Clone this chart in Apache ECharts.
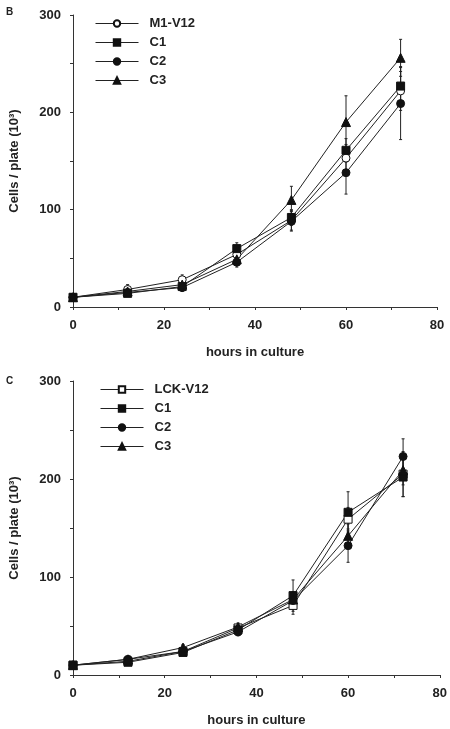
<!DOCTYPE html>
<html><head><meta charset="utf-8">
<script src="https://cdn.jsdelivr.net/npm/echarts@6/dist/echarts.min.js"></script>
<style>html,body{margin:0;padding:0;background:#fff}#c{width:450px;height:729px}</style>
</head><body><div id="c"></div>
<script>
const hours = [0, 12, 24, 36, 48, 60, 72];
const xTicks = [0, 20, 40, 60, 80];
const yTicks = [0, 100, 200, 300];

// Panel B
const namesB = ['M1-V12', 'C1', 'C2', 'C3'];
const bM1V12 = [10, 18, 28, 54, 89, 153, 222];
const bC1 = [10, 14, 21, 60, 92, 161, 227];
const bC2 = [10, 15, 20, 46, 88, 138, 209];
const bC3 = [10, 16, 23, 49, 110, 190, 256];
const bM1V12Err = [1, 5, 5, 5, 10, 14, 20];
const bC1Err = [1, 2, 3, 6, 8, 12, 20];
const bC2Err = [1, 3, 4, 5, 10, 22, 37];
const bC3Err = [1, 3, 4, 5, 14, 27, 19];

// Panel C
const namesC = ['LCK-V12', 'C1', 'C2', 'C3'];
const cLCKV12 = [10, 14, 24, 48, 71, 159, 205];
const cC1 = [10, 13, 23, 46, 81, 166, 202];
const cC2 = [10, 16, 24, 44, 76, 132, 223];
const cC3 = [10, 16, 28, 49, 77, 142, 209];
const cLCKV12Err = [1, 2, 3, 4, 9, 12, 23];
const cC1Err = [1, 2, 3, 4, 16, 21, 20];
const cC2Err = [1, 2, 3, 4, 6, 17, 18];
const cC3Err = [1, 2, 3, 4, 8, 12, 15];

const FONT = 'Liberation Sans';
const chart = echarts.init(document.getElementById('c'), null, {renderer: 'canvas'});

const symbols = [
  {symbol: 'circle', fill: '#fff'},
  {symbol: 'rect', fill: '#111'},
  {symbol: 'circle', fill: '#111'},
  {symbol: 'triangle', fill: '#111'}
];
const symbolsC = [
  {symbol: 'rect', fill: '#fff'},
  {symbol: 'rect', fill: '#111'},
  {symbol: 'circle', fill: '#111'},
  {symbol: 'triangle', fill: '#111'}
];

function lineSeries(name, data, sym, idx) {
  return {
    type: 'line', name: name, xAxisIndex: idx, yAxisIndex: idx,
    data: hours.map((h, i) => [h, data[i]]),
    symbol: sym.symbol, symbolSize: sym.symbol === 'triangle' ? 9 : 8,
    lineStyle: {color: '#222', width: 1},
    itemStyle: {color: sym.fill, borderColor: '#111', borderWidth: 1},
    emphasis: {disabled: true}, z: 3
  };
}
function errSeries(data, err, idx) {
  return {
    type: 'custom', xAxisIndex: idx, yAxisIndex: idx, silent: true, z: 2,
    data: hours.map((h, i) => [h, data[i] - err[i], data[i] + err[i]]),
    renderItem: function (params, api) {
      const lo = api.coord([api.value(0), api.value(1)]);
      const hi = api.coord([api.value(0), api.value(2)]);
      const w = 1.5;
      const st = {stroke: '#222', lineWidth: 1};
      return {type: 'group', children: [
        {type: 'line', shape: {x1: lo[0], y1: lo[1], x2: hi[0], y2: hi[1]}, style: st},
        {type: 'line', shape: {x1: lo[0] - w, y1: lo[1], x2: lo[0] + w, y2: lo[1]}, style: st},
        {type: 'line', shape: {x1: hi[0] - w, y1: hi[1], x2: hi[0] + w, y2: hi[1]}, style: st}
      ]};
    }
  };
}

const axisLabelStyle = {fontFamily: FONT, fontWeight: 'bold', fontSize: 13, color: '#222'};
function xAxis(idx) {
  return {
    type: 'value', gridIndex: idx, min: 0, max: 80, interval: 20,
    name: 'hours in culture', nameLocation: 'middle', nameGap: 39,
    nameTextStyle: {fontFamily: FONT, fontWeight: 'bold', fontSize: 13, color: '#222'},
    axisLine: {lineStyle: {color: '#333', width: 1}},
    axisTick: {length: 3, lineStyle: {color: '#333'}},
    minorTick: {show: true, splitNumber: 2, length: 3, lineStyle: {color: '#333'}},
    splitLine: {show: false},
    axisLabel: Object.assign({margin: 12}, axisLabelStyle)
  };
}
function yAxis(idx) {
  return {
    type: 'value', gridIndex: idx, min: 0, max: 300, interval: 100,
    name: 'Cells / plate (10³)', nameLocation: 'middle', nameGap: 52, nameRotate: 90,
    nameTextStyle: {fontFamily: FONT, fontWeight: 'bold', fontSize: 13, color: '#222'},
    axisLine: {show: true, lineStyle: {color: '#333', width: 1}},
    axisTick: {show: true, length: 3, lineStyle: {color: '#333'}},
    minorTick: {show: true, splitNumber: 2, length: 3, lineStyle: {color: '#333'}},
    splitLine: {show: false},
    axisLabel: Object.assign({margin: 12}, axisLabelStyle)
  };
}

const legendCommon = {
  orient: 'vertical', itemWidth: 43, itemHeight: 8, itemGap: 6, padding: 0,
  lineStyle: {width: 1, color: '#222'},
  textStyle: {fontFamily: FONT, fontWeight: 'bold', fontSize: 13, lineHeight: 13, color: '#222', padding: [0, 0, 0, 6]},
  selectedMode: false
};

const option = {
  animation: false,
  backgroundColor: '#fff',
  title: [
    {text: 'B', left: 1, top: 2, textStyle: {fontFamily: FONT, fontWeight: 'bold', fontSize: 10, color: '#222'}},
    {text: 'C', left: 1, top: 371, textStyle: {fontFamily: FONT, fontWeight: 'bold', fontSize: 10, color: '#222'}}
  ],
  grid: [
    {left: 72, right: 13, top: 15, height: 292},
    {left: 72, right: 7, top: 381, height: 294}
  ],
  xAxis: [xAxis(0), xAxis(1)],
  yAxis: [yAxis(0), yAxis(1)],
  legend: [
    Object.assign({}, legendCommon, {left: 95, top: 17, data: namesB}),
    Object.assign({}, legendCommon, {left: 100, top: 383, data: namesC.map(n => n + '_c'),
      formatter: n => n.replace(/_c$/, '')})
  ],
  series: [
    errSeries(bM1V12, bM1V12Err, 0),
    errSeries(bC1, bC1Err, 0),
    errSeries(bC2, bC2Err, 0),
    errSeries(bC3, bC3Err, 0),
    lineSeries(namesB[0], bM1V12, symbols[0], 0),
    lineSeries(namesB[1], bC1, symbols[1], 0),
    lineSeries(namesB[2], bC2, symbols[2], 0),
    lineSeries(namesB[3], bC3, symbols[3], 0),
    errSeries(cLCKV12, cLCKV12Err, 1),
    errSeries(cC1, cC1Err, 1),
    errSeries(cC2, cC2Err, 1),
    errSeries(cC3, cC3Err, 1),
    lineSeries(namesC[0] + '_c', cLCKV12, symbolsC[0], 1),
    lineSeries(namesC[1] + '_c', cC1, symbolsC[1], 1),
    lineSeries(namesC[2] + '_c', cC2, symbolsC[2], 1),
    lineSeries(namesC[3] + '_c', cC3, symbolsC[3], 1)
  ]
};
chart.setOption(option);
</script></body></html>
